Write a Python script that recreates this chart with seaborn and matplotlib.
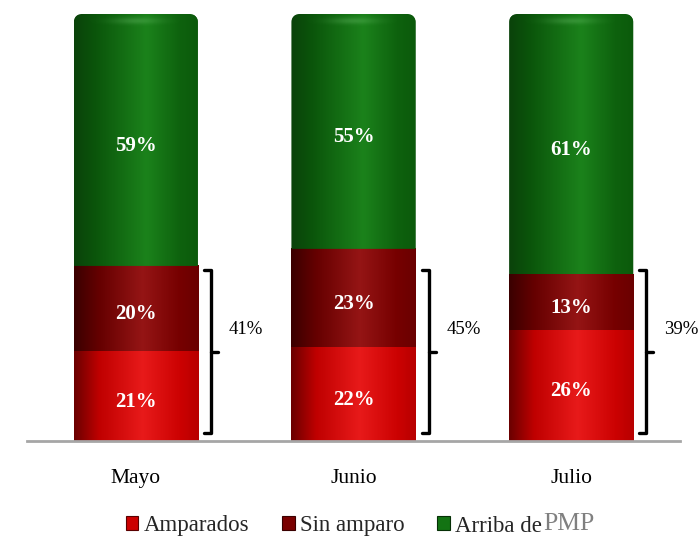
import numpy as np
import pandas as pd
import matplotlib
matplotlib.use("Agg")
import matplotlib.pyplot as plt
import seaborn as sns
from matplotlib.colors import LinearSegmentedColormap
from matplotlib.patches import Patch, PathPatch
from matplotlib.path import Path

# ---- data ----
months = ["Mayo", "Junio", "Julio"]
amparados = [21, 22, 26]
sin_amparo = [20, 23, 13]
arriba_pmp = [59, 55, 61]
series_labels = ["Amparados", "Sin amparo", "Arriba de"]
legend_suffix = "PMP"

sns.set_theme(style="white")
plt.rcParams["font.family"] = ["Liberation Serif", "DejaVu Serif"]

W, H = 698, 553
fig = plt.figure(figsize=(W / 100, H / 100), dpi=100)
ax = fig.add_axes([27 / W, (H - 441) / H, (680 - 27) / W, 427 / H])

amp = np.array(amparados, dtype=float)
sin = np.array(sin_amparo, dtype=float)
arr = np.array(arriba_pmp, dtype=float)
cum1 = amp
cum2 = amp + sin
cum3 = amp + sin + arr

df = pd.DataFrame({"mes": months, "c1": cum1, "c2": cum2, "c3": cum3})
bw = 0.57
# back-to-front cumulative bars
sns.barplot(data=df, x="mes", y="c3", color="#0d600d", width=bw, ax=ax, zorder=1)
sns.barplot(data=df, x="mes", y="c2", color="#7a0000", width=bw, ax=ax, zorder=1)
sns.barplot(data=df, x="mes", y="c1", color="#cc0000", width=bw, ax=ax, zorder=1)

ax.set_xlim(-0.5, 2.5)
ax.set_ylim(0, 100)

cmaps = {
    "green": LinearSegmentedColormap.from_list("g", [(0, "#0a420a"), (0.18, "#0b560b"),
                                                     (0.58, "#1b821b"), (0.85, "#0e620e"), (1, "#0b5a0b")]),
    "dark": LinearSegmentedColormap.from_list("d", [(0, "#3a0000"), (0.2, "#650000"),
                                                    (0.55, "#951515"), (0.85, "#760000"), (1, "#6a0000")]),
    "red": LinearSegmentedColormap.from_list("r", [(0, "#6a0000"), (0.2, "#bf0000"),
                                                   (0.55, "#e81a1a"), (0.85, "#cc0202"), (1, "#b80000")]),
}
grad = np.linspace(0, 1, 256).reshape(1, -1)

n = len(months)
patches = ax.patches
green_p = patches[0:n]


def rounded_top(x0, x1, y0, y1, rx, ry, npts=20):
    t = np.linspace(0, np.pi / 2, npts)
    verts = [(x0, y0), (x1, y0)]
    for a in t:
        verts.append((x1 - rx + rx * np.cos(a), y1 - ry + ry * np.sin(a)))
    for a in t:
        verts.append((x0 + rx - rx * np.sin(a), y1 - ry + ry * np.cos(a)))
    verts.append((x0, y0))
    return Path(verts)


rx, ry = 8 / 218, 8 / 4.27
for i, p in enumerate(green_p):
    x0 = p.get_x()
    x1 = x0 + p.get_width()
    segs = [(0, cum1[i], "red"), (cum1[i], cum2[i], "dark"), (cum2[i], cum3[i], "green")]
    for (b, t, key) in segs:
        im = ax.imshow(grad, extent=[x0, x1, b, t], aspect="auto", cmap=cmaps[key],
                       zorder=2, interpolation="bicubic")
        if key == "green":
            clip = PathPatch(rounded_top(x0, x1, b, t, rx, ry), transform=ax.transData,
                             facecolor="none", edgecolor="none")
            ax.add_patch(clip)
            im.set_clip_path(clip)
            p.set_clip_path(clip)
            hl = np.zeros((40, 256, 4))
            xs = np.linspace(-1, 1, 256)
            ys = np.linspace(0, 1, 40)
            X, Y = np.meshgrid(xs, ys)
            alpha = np.exp(-(X / 0.4) ** 2) * np.exp(-((Y - 0.55) / 0.22) ** 2) * 0.25
            hl[..., 0] = 0.55
            hl[..., 1] = 0.85
            hl[..., 2] = 0.55
            hl[..., 3] = alpha
            im2 = ax.imshow(hl, extent=[x0, x1, t - 3.5, t], aspect="auto", zorder=2.5,
                            origin="lower", interpolation="bicubic")
            im2.set_clip_path(clip)
    # value labels
    cx = x0 + p.get_width() / 2
    for (b, t, v) in [(0, cum1[i], amp[i]), (cum1[i], cum2[i], sin[i]), (cum2[i], cum3[i], arr[i])]:
        ax.text(cx, (b + t) / 2 - 1.3, f"{int(v)}%", ha="center", va="center", color="white",
                fontsize=15, fontweight="bold", zorder=4)
    # bracket
    px = 1 / 218
    xa = x1 + 6 * px
    xb = x1 + 13 * px
    xc = x1 + 20 * px
    ytop, ybot, ymid = 40.0, 1.9, 20.8
    ax.plot([xa, xb, xb, xa], [ytop, ytop, ybot, ybot], color="black", lw=2.4,
            solid_joinstyle="round", solid_capstyle="round", zorder=4, clip_on=False)
    ax.plot([xb, xc], [ymid, ymid], color="black", lw=2.4, solid_capstyle="round",
            zorder=4, clip_on=False)
    ax.text(x1 + 31 * px, 26, f"{int(amp[i] + sin[i])}%", ha="left", va="center",
            fontsize=13.5, color="black", zorder=4, clip_on=False)

sns.despine(ax=ax, left=True, top=True, right=True)
ax.spines["bottom"].set_color("#a6a6a6")
ax.spines["bottom"].set_linewidth(2)
ax.set_yticks([])
ax.set_xlabel("")
ax.set_ylabel("")
ax.tick_params(axis="x", length=0, pad=20, labelsize=15.5, labelcolor="black")
ax.set_facecolor("none")
fig.patch.set_facecolor("white")

handles = [Patch(facecolor="#cc0000", edgecolor="#5a0000", lw=0.8),
           Patch(facecolor="#7a0000", edgecolor="#3a0000", lw=0.8),
           Patch(facecolor="#137313", edgecolor="#063006", lw=0.8)]
leg = fig.legend(handles, series_labels, loc="center", ncol=3,
                 bbox_to_anchor=(334 / W, (H - 526) / H), frameon=False,
                 fontsize=16.5, handlelength=0.55, handleheight=0.55,
                 handletextpad=0.25, columnspacing=1.4, borderaxespad=0)

fig.canvas.draw()
r = fig.canvas.get_renderer()
bb = leg.get_texts()[2].get_window_extent(r)
fig.text((bb.x1 + 1) / W, (bb.y1 + 2) / H, legend_suffix, ha="left", va="top",
         fontsize=18.5, color="#808080")

fig.savefig("out.png", dpi=100)
